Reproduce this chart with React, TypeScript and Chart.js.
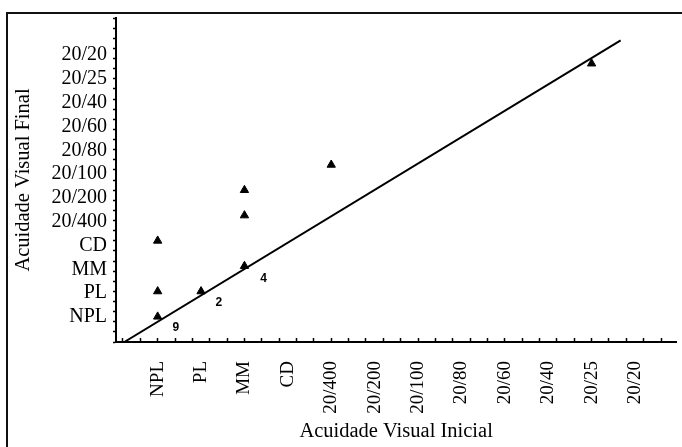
import React, { useEffect, useRef } from 'react';
import { Chart, registerables } from 'chart.js';

Chart.register(...registerables);

// Acuity categories (index 0 = NPL ... 11 = 20/20)
const xLabels = ['NPL', 'PL', 'MM', 'CD', '20/400', '20/200', '20/100', '20/80', '20/60', '20/40', '20/25', '20/20'];
const yLabels = ['NPL', 'PL', 'MM', 'CD', '20/400', '20/200', '20/100', '20/80', '20/60', '20/40', '20/25', '20/20'];

// Eyes: initial acuity index vs final acuity index
const initialIdx = [0, 0, 0, 1, 2, 2, 2, 4, 10];
const finalIdx = [3, 1, 0, 1, 5, 4, 2, 6, 10];

// Fitted line end points
const fitX = [-0.75, 10.67];
const fitY = [-0.98, 10.92];

// Count annotations
const countText = ['9', '2', '4'];
const countX = [0.42, 1.41, 2.44];
const countY = [-0.42, 0.57, 1.51];

const SERIF = '"Liberation Serif", "Times New Roman", serif';

const near = (v: number, step: number, base = 0) => {
  const k = (v - base) / step;
  return Math.abs(k - Math.round(k)) < 1e-6;
};

const countPlugin = {
  id: 'counts',
  afterDatasetsDraw(chart: any) {
    const { ctx, scales } = chart;
    ctx.save();
    ctx.font = 'bold 12px "Liberation Sans", Arial, sans-serif';
    ctx.fillStyle = '#000';
    ctx.textAlign = 'center';
    ctx.textBaseline = 'middle';
    countText.forEach((t, i) => {
      ctx.fillText(t, scales.x.getPixelForValue(countX[i]), scales.y2.getPixelForValue(countY[i]));
    });
    ctx.restore();
  },
};

export default function App() {
  const ref = useRef<HTMLCanvasElement>(null);

  useEffect(() => {
    if (!ref.current) return;
    Chart.defaults.color = '#000';
    const chart = new Chart(ref.current, {
      type: 'scatter',
      data: {
        datasets: [
          {
            label: 'eyes',
            data: initialIdx.map((x, i) => ({ x, y: finalIdx[i] })),
            yAxisID: 'y2',
            pointStyle: 'triangle',
            pointRadius: 4.8,
            backgroundColor: '#000',
            borderColor: '#000',
            borderWidth: 1,
          },
          {
            label: 'fit',
            data: fitX.map((x, i) => ({ x, y: fitY[i] })),
            yAxisID: 'y2',
            showLine: true,
            pointRadius: 0,
            borderColor: '#000',
            borderWidth: 2,
          },
        ],
      },
      options: {
        responsive: false,
        animation: false,
        layout: { padding: { top: 18, left: 0, right: 0, bottom: 0 } },
        plugins: { legend: { display: false }, tooltip: { enabled: false } },
        scales: {
          x: {
            type: 'linear',
            position: 'bottom',
            min: -0.96,
            max: 11.95,
            afterBuildTicks: (scale: any) => {
              const vals = new Set<number>();
              for (let k = -2; k <= 30; k++) vals.add(Math.round(k * 0.4 * 1000) / 1000);
              for (let i = 0; i < xLabels.length; i++) vals.add(i);
              scale.ticks = Array.from(vals)
                .filter((v) => v >= scale.min && v <= scale.max)
                .sort((a, b) => a - b)
                .map((value) => ({ value }));
            },
            afterFit: (scale: any) => {
              scale.height = 105;
              scale.paddingLeft = 0;
              scale.paddingRight = 0;
            },
            ticks: {
              autoSkip: false,
              minRotation: 90,
              maxRotation: 90,
              padding: 23,
              font: { family: SERIF, size: 19 },
              color: '#000',
              callback: (v: any) => (near(Number(v), 1) ? xLabels[Math.round(Number(v))] ?? '' : ''),
            },
            grid: {
              drawOnChartArea: false,
              drawTicks: true,
              tickLength: -4,
              tickWidth: 1.5,
              tickColor: (ctx: any) => (near(ctx.tick.value, 0.4) ? '#000' : 'rgba(0,0,0,0)'),
            },
            border: { display: true, color: '#000', width: 2 },
            title: {
              display: true,
              text: 'Acuidade Visual Inicial',
              font: { family: SERIF, size: 20.5 },
              color: '#000',
              padding: { top: 0, bottom: 3 },
            },
          },
          y: {
            type: 'linear',
            position: 'left',
            weight: 10,
            min: -1.05,
            max: 12.56,
            afterBuildTicks: (scale: any) => {
              scale.ticks = yLabels.map((_, i) => ({ value: i }));
            },
            afterFit: (scale: any) => {
              scale.width = 111;
              scale.paddingTop = 0;
              scale.paddingBottom = 0;
            },
            ticks: {
              autoSkip: false,
              padding: 4,
              font: { family: SERIF, size: 20 },
              color: '#000',
              callback: (v: any) => yLabels[Math.round(Number(v))] ?? '',
            },
            grid: { display: false, drawTicks: false },
            border: { display: false },
            title: {
              display: true,
              text: 'Acuidade Visual Final',
              font: { family: SERIF, size: 20.5 },
              color: '#000',
              padding: { top: 11.7, bottom: 0 },
            },
          },
          y2: {
            type: 'linear',
            position: 'left',
            weight: 0,
            min: -1,
            max: 11.8,
            afterBuildTicks: (scale: any) => {
              const t = [];
              for (let k = 0; k <= 32; k++) {
                const v = Math.round((-1 + k * 0.4) * 1000) / 1000;
                if (v <= scale.max + 1e-6) t.push({ value: v });
              }
              scale.ticks = t;
            },
            afterFit: (scale: any) => {
              scale.width = 5;
              scale.paddingTop = 0;
              scale.paddingBottom = 0;
            },
            ticks: { display: false },
            grid: {
              drawOnChartArea: false,
              drawTicks: true,
              tickLength: 3,
              tickWidth: 1.5,
              tickColor: '#000',
            },
            border: { display: true, color: '#000', width: 2 },
          },
        },
      } as any,
      plugins: [countPlugin],
    });
    return () => chart.destroy();
  }, []);

  return (
    <div
      style={{
        position: 'fixed',
        left: 0,
        top: 0,
        width: 682,
        height: 447,
        overflow: 'hidden',
        background: '#fff',
      }}
    >
      <canvas ref={ref} width={682} height={447} style={{ position: 'absolute', left: 0, top: 0, width: 682, height: 447 }} />
      <div
        style={{
          position: 'absolute',
          left: 6,
          top: 12,
          width: 800,
          height: 600,
          borderLeft: '2px solid #111',
          borderTop: '2px solid #111',
          pointerEvents: 'none',
        }}
      />
    </div>
  );
}
